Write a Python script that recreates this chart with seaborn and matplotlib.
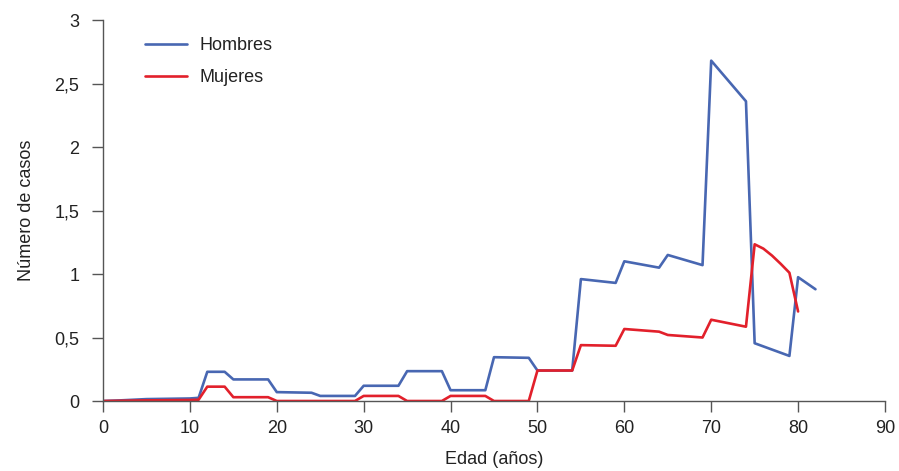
import matplotlib
matplotlib.use("Agg")
import matplotlib.pyplot as plt
import seaborn as sns
import pandas as pd

# Hombres
edad_h = [0, 2, 5, 10, 11, 12, 14, 15, 19, 20, 24, 25, 29, 30, 34, 35, 39, 40, 44, 45,
          49, 50, 54, 55, 59, 60, 64, 65, 69, 70, 74, 75, 79, 80, 82]
casos_h = [0, 0.005, 0.015, 0.02, 0.025, 0.23, 0.23, 0.17, 0.17, 0.07, 0.065, 0.04, 0.04,
           0.12, 0.12, 0.235, 0.235, 0.085, 0.085, 0.345, 0.34, 0.24, 0.24, 0.96, 0.93,
           1.1, 1.05, 1.15, 1.07, 2.68, 2.36, 0.455, 0.355, 0.975, 0.88]

# Mujeres
edad_m = [0, 5, 10, 11, 12, 14, 15, 19, 20, 29, 30, 34, 35, 39, 40, 44, 45, 49, 50, 54,
          55, 59, 60, 64, 65, 69, 70, 74, 75, 76, 77, 78, 79, 80]
casos_m = [0, 0.005, 0.008, 0.01, 0.113, 0.113, 0.03, 0.03, 0, 0, 0.04, 0.04, 0, 0, 0.04,
           0.04, 0, 0, 0.24, 0.24, 0.44, 0.435, 0.567, 0.546, 0.52, 0.5, 0.64, 0.585,
           1.234, 1.2, 1.145, 1.08, 1.01, 0.705]

xticks = [0, 10, 20, 30, 40, 50, 60, 70, 80, 90]
yticks = [0, 0.5, 1, 1.5, 2, 2.5, 3]
ytick_labels = ["0", "0,5", "1", "1,5", "2", "2,5", "3"]

df = pd.concat([
    pd.DataFrame({"edad": edad_h, "casos": casos_h, "sexo": "Hombres"}),
    pd.DataFrame({"edad": edad_m, "casos": casos_m, "sexo": "Mujeres"}),
])

sns.set_style("ticks")
plt.rcParams["font.family"] = ["Liberation Sans", "DejaVu Sans"]

fig = plt.figure(figsize=(8.99, 4.71), dpi=100)
ax = fig.add_axes([0.1146, 0.1486, 0.8698, 0.8089])

sns.lineplot(data=df, x="edad", y="casos", hue="sexo", sort=False,
             palette={"Hombres": "#4867b2", "Mujeres": "#e2202b"},
             linewidth=1.9, ax=ax, estimator=None)

ax.set_xlim(0, 90)
ax.set_ylim(0, 3)
ax.set_xticks(xticks)
ax.set_yticks(yticks)
ax.set_yticklabels(ytick_labels)
ax.tick_params(axis="both", labelsize=13, length=8, width=1, color="#555555",
               labelcolor="#222222")
ax.tick_params(axis="x", pad=6)
ax.tick_params(axis="y", pad=9)
ax.set_xlabel("Edad (años)", fontsize=13, color="#222222", labelpad=10)
ax.set_ylabel("Número de casos", fontsize=13, color="#222222", labelpad=14)
for s in ["left", "bottom"]:
    ax.spines[s].set_color("#555555")
    ax.spines[s].set_linewidth(1)
sns.despine(ax=ax)

leg = ax.legend(loc="upper left", bbox_to_anchor=(0.033, 0.998), frameon=False,
                fontsize=13, handlelength=2.3, labelspacing=0.85, handletextpad=0.7)
for t in leg.get_texts():
    t.set_color("#222222")

fig.savefig("out.png", dpi=100)
